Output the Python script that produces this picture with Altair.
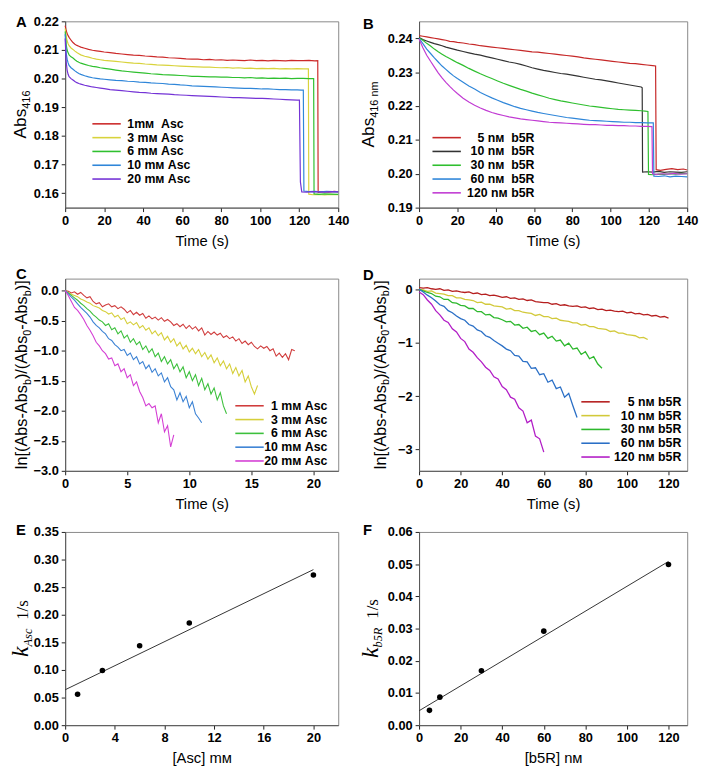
import altair as alt
import pandas as pd

SANS = "Liberation Sans"
SERIF = "Liberation Serif"

# ---------------- data ----------------
A_LABELS = ["1m\u043c\u00a0\u00a0Asc", "3 m\u043c Asc", "6 m\u043c Asc", "10 m\u043c Asc", "20 m\u043c Asc"]
A_COLORS = ["#cc2a2a", "#d8d33c", "#2fc02f", "#2f86d9", "#7433d6"]
A_TIME = [0, 0.5, 1, 1.5, 2, 3, 4, 5, 6, 7, 8, 10, 12, 14, 16, 18, 20, 23, 26, 29, 32, 35, 38, 41, 44, 47,
          50, 53, 56, 59, 62, 65, 68, 71, 74, 77, 80, 83, 86, 89, 92, 95, 98, 101, 104, 107, 110, 113, 116, 119]
A_RED = [0.2185, 0.2168, 0.2158, 0.2150, 0.2144, 0.2134, 0.2126, 0.2120, 0.2116, 0.2113, 0.2110, 0.2106, 0.2102,
         0.2099, 0.2097, 0.2095, 0.2093, 0.2091, 0.2088, 0.2086, 0.2084, 0.2082, 0.2081, 0.2079, 0.2078, 0.2076,
         0.2075, 0.2073, 0.2072, 0.2071, 0.2069, 0.2068, 0.2068, 0.2066, 0.2067, 0.2065, 0.2066, 0.2064, 0.2065,
         0.2064, 0.2063, 0.2065, 0.2063, 0.2064, 0.2062, 0.2064, 0.2063, 0.2062, 0.2064, 0.2063]
A_YELLOW = [0.2175, 0.2148, 0.2132, 0.2122, 0.2115, 0.2107, 0.2102, 0.2096, 0.2091, 0.2087, 0.2083, 0.2078, 0.2075,
            0.2071, 0.2068, 0.2066, 0.2064, 0.2062, 0.2060, 0.2058, 0.2056, 0.2054, 0.2053, 0.2051, 0.2050, 0.2048,
            0.2047, 0.2046, 0.2045, 0.2044, 0.2043, 0.2042, 0.2041, 0.2040, 0.2040, 0.2039, 0.2038, 0.2039, 0.2037,
            0.2038, 0.2036, 0.2037, 0.2035, 0.2036, 0.2035, 0.2036, 0.2034, 0.2035, 0.2034, 0.2035]
A_GREEN = [0.2165, 0.2120, 0.2100, 0.2090, 0.2083, 0.2076, 0.2072, 0.2066, 0.2061, 0.2057, 0.2054, 0.2050, 0.2046,
           0.2043, 0.2041, 0.2038, 0.2036, 0.2033, 0.2030, 0.2027, 0.2025, 0.2023, 0.2021, 0.2019, 0.2017, 0.2016,
           0.2014, 0.2013, 0.2012, 0.2011, 0.2010, 0.2008, 0.2008, 0.2007, 0.2006, 0.2006, 0.2005, 0.2005, 0.2004,
           0.2004, 0.2003, 0.2004, 0.2002, 0.2003, 0.2001, 0.2002, 0.2001, 0.2002, 0.2000, 0.2001]
A_BLUE = [0.2155, 0.2090, 0.2068, 0.2055, 0.2046, 0.2038, 0.2033, 0.2027, 0.2022, 0.2018, 0.2015, 0.2010, 0.2006,
          0.2003, 0.2001, 0.1999, 0.1998, 0.1996, 0.1994, 0.1993, 0.1991, 0.1990, 0.1988, 0.1987, 0.1985, 0.1984,
          0.1983, 0.1981, 0.1980, 0.1978, 0.1977, 0.1975, 0.1974, 0.1973, 0.1972, 0.1971, 0.1970, 0.1969, 0.1968,
          0.1967, 0.1966, 0.1966, 0.1965, 0.1964, 0.1964, 0.1963, 0.1962, 0.1962, 0.1961, 0.1961]
A_PURPLE = [0.2140, 0.2060, 0.2030, 0.2015, 0.2007, 0.2000, 0.1995, 0.1990, 0.1986, 0.1983, 0.1981, 0.1977, 0.1974,
            0.1971, 0.1969, 0.1967, 0.1965, 0.1962, 0.1960, 0.1958, 0.1956, 0.1954, 0.1952, 0.1951, 0.1949, 0.1948,
            0.1947, 0.1946, 0.1944, 0.1943, 0.1942, 0.1941, 0.1940, 0.1939, 0.1938, 0.1937, 0.1936, 0.1935, 0.1934,
            0.1934, 0.1933, 0.1932, 0.1931, 0.1931, 0.1930, 0.1929, 0.1928, 0.1927, 0.1926, 0.1925]
A_TAIL_T = [[122, 125, 128, 129.5, 129.7, 132, 135, 138, 140],
            [122, 124.7, 124.9, 127, 130, 133, 136, 140],
            [122, 125, 127.4, 127.6, 130, 133, 136, 140],
            [121, 122.1, 122.4, 125, 128, 131, 134, 137, 140],
            [120.1, 120.6, 121.3, 124, 127, 130, 133, 136, 140]]
A_TAIL_V = [[0.2063, 0.2064, 0.2062, 0.2063, 0.1603, 0.1606, 0.1604, 0.1607, 0.1605],
            [0.2034, 0.2034, 0.1597, 0.1595, 0.1596, 0.1594, 0.1596, 0.1595],
            [0.2001, 0.2000, 0.2000, 0.1598, 0.1596, 0.1598, 0.1597, 0.1596],
            [0.1960, 0.1960, 0.1608, 0.1606, 0.1607, 0.1605, 0.1607, 0.1606, 0.1605],
            [0.1925, 0.1640, 0.1605, 0.1604, 0.1606, 0.1605, 0.1604, 0.1606, 0.1605]]

B_LABELS = ["5 n\u043c\u00a0\u00a0b5R", "10 n\u043c\u00a0\u00a0b5R", "30 n\u043c\u00a0\u00a0b5R",
            "60 n\u043c\u00a0\u00a0b5R", "120 n\u043c b5R"]
B_COLORS = ["#c62828", "#333333", "#2fbf2f", "#2f86d9", "#c13bd3"]
B_TIME = [0, 2, 4, 6, 8, 10, 12, 14, 16, 18, 20, 23, 26, 29, 32, 35, 38, 41, 44, 47, 50, 53, 56, 59, 62, 65,
          68, 71, 74, 77, 80, 83, 86, 89, 92, 95, 98, 101, 104, 107, 110, 113, 116]
B_RED = [0.2408, 0.2406, 0.2404, 0.2402, 0.2400, 0.2398, 0.2396, 0.2394, 0.2391, 0.2390, 0.2388,
         0.2386, 0.2383, 0.2381, 0.2378, 0.2376, 0.2374, 0.2372, 0.2370, 0.2368, 0.2366,
         0.2364, 0.2362, 0.2360, 0.2359, 0.2357, 0.2355, 0.2353, 0.2351, 0.2349, 0.2347,
         0.2345, 0.2342, 0.2340, 0.2338, 0.2336, 0.2334, 0.2332, 0.2330, 0.2328, 0.2326, 0.2325, 0.2323]
B_BLACK = [0.2402, 0.2396, 0.2392, 0.2388, 0.2384, 0.2381, 0.2378, 0.2374, 0.2371, 0.2368, 0.2365,
           0.2361, 0.2357, 0.2353, 0.2350, 0.2346, 0.2342, 0.2338, 0.2334, 0.2330, 0.2327,
           0.2323, 0.2318, 0.2313, 0.2309, 0.2305, 0.2302, 0.2299, 0.2296, 0.2294, 0.2291,
           0.2288, 0.2285, 0.2282, 0.2279, 0.2277, 0.2274, 0.2271, 0.2268, 0.2265, 0.2262, 0.2259, 0.2256]
B_GREEN = [0.2401, 0.2394, 0.2385, 0.2377, 0.2368, 0.2360, 0.2353, 0.2346, 0.2340, 0.2334, 0.2328,
           0.2320, 0.2311, 0.2303, 0.2295, 0.2288, 0.2281, 0.2274, 0.2267, 0.2261, 0.2255,
           0.2249, 0.2244, 0.2238, 0.2233, 0.2228, 0.2223, 0.2219, 0.2215, 0.2212, 0.2209,
           0.2206, 0.2203, 0.2200, 0.2198, 0.2196, 0.2194, 0.2192, 0.2190, 0.2189, 0.2188, 0.2187, 0.2186]
B_BLUE = [0.2400, 0.2384, 0.2368, 0.2355, 0.2342, 0.2330, 0.2318, 0.2308, 0.2298, 0.2289, 0.2281,
          0.2270, 0.2259, 0.2250, 0.2240, 0.2232, 0.2224, 0.2217, 0.2210, 0.2204, 0.2198,
          0.2193, 0.2189, 0.2185, 0.2181, 0.2178, 0.2175, 0.2172, 0.2169, 0.2166, 0.2164,
          0.2162, 0.2160, 0.2158, 0.2157, 0.2156, 0.2155, 0.2154, 0.2153, 0.2152, 0.2152, 0.2151, 0.2151]
B_MAGENTA = [0.2398, 0.2372, 0.2350, 0.2332, 0.2315, 0.2298, 0.2283, 0.2270, 0.2258, 0.2247, 0.2237,
             0.2223, 0.2212, 0.2202, 0.2194, 0.2187, 0.2181, 0.2176, 0.2172, 0.2168, 0.2165,
             0.2162, 0.2160, 0.2158, 0.2156, 0.2154, 0.2152, 0.2151, 0.2150, 0.2149, 0.2148,
             0.2147, 0.2146, 0.2145, 0.2145, 0.2144, 0.2143, 0.2143, 0.2142, 0.2142, 0.2141, 0.2141, 0.2140]
B_TAIL_T = [[119, 122, 123.5, 123.8, 126, 129, 132, 135, 138, 140],
            [116.5, 116.7, 119, 122, 125, 128, 131, 134, 137, 140],
            [118, 119.5, 119.8, 122, 125, 128, 131, 134, 137, 140],
            [119, 122.3, 122.6, 125, 128, 131, 134, 137, 140],
            [119, 121.6, 121.9, 124, 127, 130, 133, 136, 140]]
B_TAIL_V = [[0.2321, 0.2319, 0.2318, 0.2012, 0.2010, 0.2013, 0.2015, 0.2012, 0.2014, 0.2011],
            [0.2254, 0.2005, 0.2006, 0.2005, 0.2007, 0.2004, 0.2006, 0.2005, 0.2004, 0.2006],
            [0.2185, 0.2184, 0.1998, 0.1997, 0.1999, 0.1998, 0.2000, 0.1999, 0.2001, 0.2000],
            [0.2150, 0.2150, 0.1993, 0.1992, 0.1994, 0.1991, 0.1993, 0.1992, 0.1991],
            [0.2140, 0.2139, 0.2000, 0.1998, 0.2000, 0.1999, 0.2001, 0.1999, 0.2000]]

C_LABELS = ["1 m\u043c Asc", "3 m\u043c Asc", "6 m\u043c Asc", "10 m\u043c Asc", "20 m\u043c Asc"]
C_COLORS = ["#d03c3c", "#d6cf3a", "#3cc03c", "#3b82d4", "#d43fd4"]
C_TIME = [0, 0.25, 0.5, 0.75, 1, 1.25, 1.5, 1.75, 2, 2.25, 2.5, 2.75, 3, 3.25, 3.5, 3.75, 4, 4.25, 4.5, 4.75,
          5, 5.25, 5.5, 5.75, 6, 6.25, 6.5, 6.75, 7, 7.25, 7.5, 7.75, 8, 8.25, 8.5, 8.75, 9, 9.25, 9.5, 9.75,
          10, 10.25, 10.5, 10.75, 11, 11.25, 11.5, 11.75, 12, 12.25, 12.5, 12.75, 13, 13.25, 13.5, 13.75,
          14, 14.25, 14.5, 14.75, 15, 15.25, 15.5, 15.75, 16, 16.25, 16.5, 16.75, 17, 17.25, 17.5, 17.75,
          18, 18.25, 18.5]
C_RED = [0.00, -0.01, -0.04, -0.02, -0.06, -0.03, -0.08, -0.12, -0.10, -0.18,
         -0.22, -0.20, -0.27, -0.24, -0.22, -0.27, -0.25, -0.30, -0.27, -0.31,
         -0.37, -0.33, -0.40, -0.36, -0.41, -0.38, -0.46, -0.42, -0.47, -0.44,
         -0.49, -0.45, -0.51, -0.48, -0.52, -0.58, -0.55, -0.60, -0.56, -0.63,
         -0.58, -0.64, -0.60, -0.67, -0.62, -0.74, -0.68, -0.73, -0.69, -0.74,
         -0.71, -0.78, -0.75, -0.80, -0.77, -0.84, -0.80, -0.88, -0.84, -0.90,
         -0.86, -0.93, -0.97, -0.92, -0.96, -0.93, -1.00, -0.97, -1.09, -1.04,
         -1.11, -1.05, -1.15, -0.98, -1.00]
C_YELLOW = [0.00, -0.03, -0.06, -0.08, -0.10, -0.14, -0.16, -0.19, -0.21, -0.25,
            -0.27, -0.29, -0.33, -0.35, -0.39, -0.37, -0.44, -0.41, -0.48, -0.45,
            -0.55, -0.52, -0.57, -0.53, -0.62, -0.58, -0.66, -0.62, -0.72, -0.67,
            -0.75, -0.70, -0.82, -0.76, -0.86, -0.80, -0.92, -0.86, -0.97, -0.91,
            -1.02, -0.96, -1.05, -0.98, -1.10, -1.03, -1.14, -1.07, -1.20, -1.12,
            -1.25, -1.17, -1.30, -1.22, -1.38, -1.28, -1.42, -1.33, -1.52, -1.42,
            -1.60, -1.72, -1.58]
C_GREEN = [0.00, -0.04, -0.08, -0.12, -0.16, -0.21, -0.25, -0.30, -0.34, -0.40,
           -0.44, -0.49, -0.52, -0.58, -0.55, -0.65, -0.62, -0.72, -0.67, -0.79,
           -0.74, -0.86, -0.80, -0.90, -0.85, -0.98, -0.92, -1.03, -0.97, -1.10,
           -1.04, -1.18, -1.10, -1.22, -1.15, -1.30, -1.22, -1.35, -1.27, -1.45,
           -1.35, -1.50, -1.40, -1.58, -1.46, -1.65, -1.55, -1.72, -1.62, -1.82,
           -1.70, -1.92, -2.05]
C_BLUE = [0.00, -0.05, -0.11, -0.16, -0.22, -0.28, -0.33, -0.38, -0.44, -0.52,
          -0.58, -0.62, -0.68, -0.72, -0.80, -0.83, -0.90, -0.94, -1.00, -0.98,
          -1.08, -1.04, -1.15, -1.10, -1.22, -1.18, -1.30, -1.24, -1.36, -1.30,
          -1.42, -1.37, -1.52, -1.45, -1.60, -1.65, -1.82, -1.70, -1.85, -1.76,
          -1.95, -1.85, -2.05, -2.12, -2.20]
C_MAGENTA = [0.00, -0.08, -0.18, -0.28, -0.33, -0.40, -0.48, -0.58, -0.66, -0.75,
             -0.86, -0.92, -1.00, -1.05, -1.14, -1.12, -1.25, -1.22, -1.35, -1.30,
             -1.45, -1.40, -1.58, -1.52, -1.68, -1.78, -1.92, -1.88, -1.95, -1.92,
             -2.20, -2.05, -2.35, -2.25, -2.60, -2.40]

D_LABELS = ["5 n\u043c b5R", "10 n\u043c b5R", "30 n\u043c b5R", "60 n\u043c b5R", "120 n\u043c b5R"]
D_COLORS = ["#b51e1e", "#d2c93a", "#2db82d", "#2a6fc6", "#b21dc6"]
D_TIME = [0, 2, 4, 6, 8, 10, 12, 14, 16, 18, 20, 22, 24, 26, 28, 30, 32, 34, 36, 38, 40, 42, 44, 46, 48, 50,
          52, 54, 56, 58, 60, 62, 64, 66, 68, 70, 72, 74, 76, 78, 80, 82, 84, 86, 88, 90, 92, 94, 96, 98, 100,
          102, 104, 106, 108, 110, 112, 114, 116, 118, 120]
D_RED = [0.03, 0.02, 0.03, 0.01, 0.00, 0.01, -0.02, -0.01, -0.04, -0.03,
         -0.05, -0.06, -0.05, -0.08, -0.07, -0.10, -0.09, -0.12, -0.11, -0.13,
         -0.15, -0.14, -0.17, -0.16, -0.19, -0.18, -0.21, -0.20, -0.23, -0.24,
         -0.25, -0.25, -0.28, -0.27, -0.30, -0.29, -0.31, -0.32, -0.31, -0.34,
         -0.33, -0.36, -0.35, -0.38, -0.37, -0.40, -0.39, -0.41, -0.42, -0.41,
         -0.44, -0.43, -0.46, -0.45, -0.48, -0.47, -0.50, -0.49, -0.52, -0.51, -0.54]
D_YELLOW = [0.00, -0.01, -0.04, -0.03, -0.07, -0.08, -0.09, -0.12, -0.12, -0.16,
            -0.16, -0.19, -0.20, -0.21, -0.25, -0.24, -0.28, -0.28, -0.31, -0.32,
            -0.33, -0.37, -0.36, -0.40, -0.40, -0.43, -0.44, -0.45, -0.49, -0.47,
            -0.51, -0.51, -0.55, -0.54, -0.58, -0.59, -0.60, -0.63, -0.63, -0.67,
            -0.66, -0.70, -0.70, -0.73, -0.74, -0.75, -0.79, -0.78, -0.82, -0.82,
            -0.85, -0.86, -0.87, -0.91, -0.90, -0.94]
D_GREEN = [0.00, -0.03, -0.06, -0.08, -0.13, -0.14, -0.19, -0.19, -0.25, -0.26,
           -0.30, -0.31, -0.36, -0.36, -0.42, -0.42, -0.48, -0.47, -0.53, -0.54,
           -0.57, -0.61, -0.60, -0.67, -0.66, -0.73, -0.71, -0.79, -0.77, -0.85,
           -0.82, -0.92, -0.88, -0.97, -0.95, -1.06, -1.01, -1.12, -1.10, -1.22,
           -1.17, -1.30, -1.26, -1.40, -1.48]
D_BLUE = [0.00, -0.05, -0.11, -0.16, -0.22, -0.29, -0.32, -0.40, -0.44, -0.50,
          -0.55, -0.58, -0.66, -0.69, -0.76, -0.79, -0.87, -0.90, -0.96, -1.01,
          -1.06, -1.12, -1.15, -1.24, -1.25, -1.35, -1.36, -1.48, -1.47, -1.60,
          -1.58, -1.74, -1.70, -1.86, -1.83, -2.02, -1.95, -2.18, -2.40]
D_MAGENTA = [-0.05, -0.10, -0.20, -0.28, -0.40, -0.48, -0.58, -0.62, -0.74, -0.80,
             -0.92, -0.98, -1.12, -1.18, -1.28, -1.36, -1.46, -1.52, -1.64, -1.68,
             -1.82, -1.88, -2.02, -2.06, -2.22, -2.28, -2.50, -2.45, -2.75, -2.80, -3.05]

E_ASC = [1, 3, 6, 10, 20]
E_K = [0.056, 0.099, 0.144, 0.185, 0.272]
F_B5R = [5, 10, 30, 60, 120]
F_K = [0.0046, 0.0087, 0.0169, 0.0292, 0.0499]

# ---------------- helpers ----------------
ONE = pd.DataFrame({"_": [0]})

W_SANS = {' ': 278, '(': 333, ')': 333, '-': 333, '/': 278, '[': 278, ']': 278, '0': 556, '1': 556,
          '4': 556, '5': 556, '6': 556, 'A': 667, 'R': 722, 'b': 556, 'c': 500, 'l': 222, 'm': 833,
          'n': 556, 's': 500}
W_SERIF_I = {'k': 444, 'A': 611, 's': 389, 'c': 444, 'b': 500, '5': 500, 'R': 611, ' ': 250}
W_SERIF = {'1': 500, '/': 278, 's': 389, ' ': 250}


def tw(s, size, table):
    return sum(table.get(c, 556) for c in s) * size / 1000.0


def vtitle(pieces, x_base, y_center):
    """pieces: (text, size, font, style, table, shift) ; text None => gap of 'size' px"""
    total = 0
    for p in pieces:
        total += p[1] if p[0] is None else tw(p[0], p[1], p[4])
    y = y_center + total / 2.0
    layers = []
    for text, size, font, style, table, shift in pieces:
        if text is None:
            y -= size
            continue
        layers.append(
            alt.Chart(ONE).mark_text(angle=270, align="left", baseline="alphabetic", font=font,
                                     fontSize=size, fontStyle=style, color="black")
            .encode(x=alt.value(x_base + shift), y=alt.value(y), text=alt.value(text))
        )
        y -= tw(text, size, table)
    return layers


def letter(ch, x, y):
    return alt.Chart(ONE).mark_text(align="left", baseline="alphabetic", font=SANS, fontSize=15,
                                    fontWeight="bold", color="black").encode(
        x=alt.value(x), y=alt.value(y), text=alt.value(ch))


def box(L, T, W, H, R, B):
    return alt.Chart(ONE).mark_rule(opacity=0).encode(
        x=alt.value(-L), x2=alt.value(W + R), y=alt.value(-T), y2=alt.value(H + B))


def long_df(time, series, labels, tails_t=None, tails_v=None):
    rows = []
    for i, (lab, vals) in enumerate(zip(labels, series)):
        for t, v in zip(time, vals):
            rows.append({"t": t, "v": v, "s": lab})
        if tails_t is not None:
            for t, v in zip(tails_t[i], tails_v[i]):
                rows.append({"t": t, "v": v, "s": lab})
    return pd.DataFrame(rows)


def kin_lines(df, labels, colors, xdom, xvals, ydom, yvals, yfmt, legx, legy, sw, lalign, loff):
    return alt.Chart(df).mark_line(strokeWidth=sw).encode(
        x=alt.X("t:Q", scale=alt.Scale(domain=xdom, nice=False, zero=False),
                axis=alt.Axis(values=xvals, format="d", title="Time (s)")),
        y=alt.Y("v:Q", scale=alt.Scale(domain=ydom, nice=False, zero=False),
                axis=alt.Axis(values=yvals, format=yfmt, title=None)),
        color=alt.Color("s:N", scale=alt.Scale(domain=labels, range=colors),
                        legend=alt.Legend(orient="none", legendX=legx, legendY=legy, title=None,
                                          symbolType="M-2.4,0H2.4", symbolSize=144, symbolStrokeWidth=1.6,
                                          labelFont=SANS, labelFontSize=12.5, labelFontWeight="bold",
                                          labelColor="black", labelOffset=loff, labelAlign=lalign,
                                          rowPadding=0, labelLimit=400, padding=0)),
    )


# layout numbers (plot sizes and invisible bounding boxes)
WL, WR = 277, 272
H1, H2, H3 = 189, 195, 196
LL, RL, LR, RR = 52, 19, 60, 13
T1, B1, T2, B2, T3, B3 = 7, 58, 12, 48, 12, 35

SUB = 11
TS = 16.5

# ---------------- panel A ----------------
dfA = long_df(A_TIME, [A_RED, A_YELLOW, A_GREEN, A_BLUE, A_PURPLE], A_LABELS, A_TAIL_T, A_TAIL_V)
lineA = kin_lines(dfA, A_LABELS, A_COLORS, [0, 140], [0, 20, 40, 60, 80, 100, 120, 140],
                  [0.155, 0.22], [0.16, 0.17, 0.18, 0.19, 0.20, 0.21, 0.22], ".2f", 35, 97, 1.2, "left", 14)
titleA = vtitle([("Abs", 17.5, SANS, "normal", W_SANS, 0), ("416", SUB, SANS, "normal", W_SANS, 4)], -40, H1 / 2)
pA = alt.layer(box(LL, T1, WL, H1, RL, B1), lineA, *titleA, letter("A", -50, 6)).properties(width=WL, height=H1)

# ---------------- panel B ----------------
dfB = long_df(B_TIME, [B_RED, B_BLACK, B_GREEN, B_BLUE, B_MAGENTA], B_LABELS, B_TAIL_T, B_TAIL_V)
lineB = kin_lines(dfB, B_LABELS, B_COLORS, [0, 140], [0, 20, 40, 60, 80, 100, 120, 140],
                  [0.19, 0.245], [0.19, 0.20, 0.21, 0.22, 0.23, 0.24], ".2f", 21, 111, 1.2, "right", 82)
titleB = vtitle([("Abs", 17.5, SANS, "normal", W_SANS, 0), ("416 nm", SUB, SANS, "normal", W_SANS, 4)], -46, H1 / 2)
pB = alt.layer(box(LR, T1, WR, H1, RR, B1), lineB, *titleB, letter("B", -57, 8)).properties(width=WR, height=H1)

# ---------------- panel C ----------------
dfC = long_df(C_TIME, [C_RED, C_YELLOW, C_GREEN, C_BLUE, C_MAGENTA], C_LABELS)
lineC = kin_lines(dfC, C_LABELS, C_COLORS, [0, 22], [0, 5, 10, 15, 20],
                  [-3.0, 0.2], [-3.0, -2.5, -2.0, -1.5, -1.0, -0.5, 0.0], ".1f", 180, 122, 1.1, "right", 72)
LN_PIECES = [("ln[(Abs-Abs", TS, SANS, "normal", W_SANS, 0), ("b", SUB, SANS, "normal", W_SANS, 4),
             (")/(Abs", TS, SANS, "normal", W_SANS, 0), ("0", SUB, SANS, "normal", W_SANS, 4),
             ("-Abs", TS, SANS, "normal", W_SANS, 0), ("b", SUB, SANS, "normal", W_SANS, 4),
             (")]", TS, SANS, "normal", W_SANS, 0)]
titleC = vtitle(LN_PIECES, -39, H2 / 2)
pC = alt.layer(box(LL, T2, WL, H2, RL, B2), lineC, *titleC, letter("C", -50, 0)).properties(width=WL, height=H2)

# ---------------- panel D ----------------
dfD = long_df(D_TIME, [D_RED, D_YELLOW, D_GREEN, D_BLUE, D_MAGENTA], D_LABELS)
lineD = kin_lines(dfD, D_LABELS, D_COLORS, [0, 129], [0, 20, 40, 60, 80, 100, 120],
                  [-3.4, 0.2], [-3, -2, -1, 0], "d", 172, 118, 1.3, "right", 80)
titleD = vtitle(LN_PIECES, -34, H2 / 2)
pD = alt.layer(box(LR, T2, WR, H2, RR, B2), lineD, *titleD, letter("D", -57, 1)).properties(width=WR, height=H2)

# ---------------- panel E ----------------
dfE = pd.DataFrame({"x": E_ASC, "y": E_K})
xE = alt.X("x:Q", scale=alt.Scale(domain=[0, 22], nice=False, zero=False),
           axis=alt.Axis(values=[0, 4, 8, 12, 16, 20], format="d", title="[Asc] m\u043c"))
yE = alt.Y("y:Q", scale=alt.Scale(domain=[0, 0.35], nice=False, zero=False),
           axis=alt.Axis(values=[0, 0.05, 0.10, 0.15, 0.20, 0.25, 0.30, 0.35], format=".2f", title=None))
ptsE = alt.Chart(dfE).mark_circle(size=32, color="black", opacity=1).encode(x=xE, y=yE)
fitE = alt.Chart(dfE).transform_regression("x", "y", extent=[0, 20]).mark_line(
    color="#333333", strokeWidth=1).encode(x=xE, y=yE)
titleE = vtitle([("k", 24, SERIF, "italic", W_SERIF_I, 0), ("Asc", 12.5, SERIF, "italic", W_SERIF_I, 4),
                 (None, 9, None, None, None, 0), ("1/s", 17, SERIF, "normal", W_SERIF, 0)], -38, H3 / 2)
pE = alt.layer(box(LL, T3, WL, H3, RL, B3), fitE, ptsE, *titleE, letter("E", -50, 3)).properties(width=WL, height=H3)

# ---------------- panel F ----------------
dfF = pd.DataFrame({"x": F_B5R, "y": F_K})
xF = alt.X("x:Q", scale=alt.Scale(domain=[0, 129], nice=False, zero=False),
           axis=alt.Axis(values=[0, 20, 40, 60, 80, 100, 120], format="d", title="[b5R] n\u043c"))
yF = alt.Y("y:Q", scale=alt.Scale(domain=[0, 0.06], nice=False, zero=False),
           axis=alt.Axis(values=[0, 0.01, 0.02, 0.03, 0.04, 0.05, 0.06], format=".2f", title=None))
ptsF = alt.Chart(dfF).mark_circle(size=32, color="black", opacity=1).encode(x=xF, y=yF)
fitF = alt.Chart(dfF).transform_regression("x", "y", extent=[0, 120]).mark_line(
    color="#333333", strokeWidth=1).encode(x=xF, y=yF)
titleF = vtitle([("k", 24, SERIF, "italic", W_SERIF_I, 0), ("b5R", 12.5, SERIF, "italic", W_SERIF_I, 4),
                 (None, 9, None, None, None, 0), ("1/s", 17, SERIF, "normal", W_SERIF, 0)], -42, H3 / 2)
pF = alt.layer(box(LR, T3, WR, H3, RR, B3), fitF, ptsF, *titleF, letter("F", -57, 3)).properties(width=WR, height=H3)

chart = alt.ConcatChart(
    concat=[pA, pB, pC, pD, pE, pF], columns=2, spacing=0, align="each", bounds="full", padding=0
).resolve_scale(x="independent", y="independent", color="independent").resolve_legend(
    color="independent"
).configure_axis(
    labelFont=SANS, labelFontSize=13, labelFontWeight="bold", labelColor="black",
    titleFont=SANS, titleFontSize=15, titleFontWeight="normal", titleColor="black",
    tickSize=4, tickColor="#222222", domainColor="#555555", grid=False,
    labelPadding=3, titlePadding=6, labelFlush=False, labelOverlap=False
).configure_view(stroke="#888888", strokeWidth=1)

chart.save("out.html", embed_options={"renderer": "svg", "actions": False})
